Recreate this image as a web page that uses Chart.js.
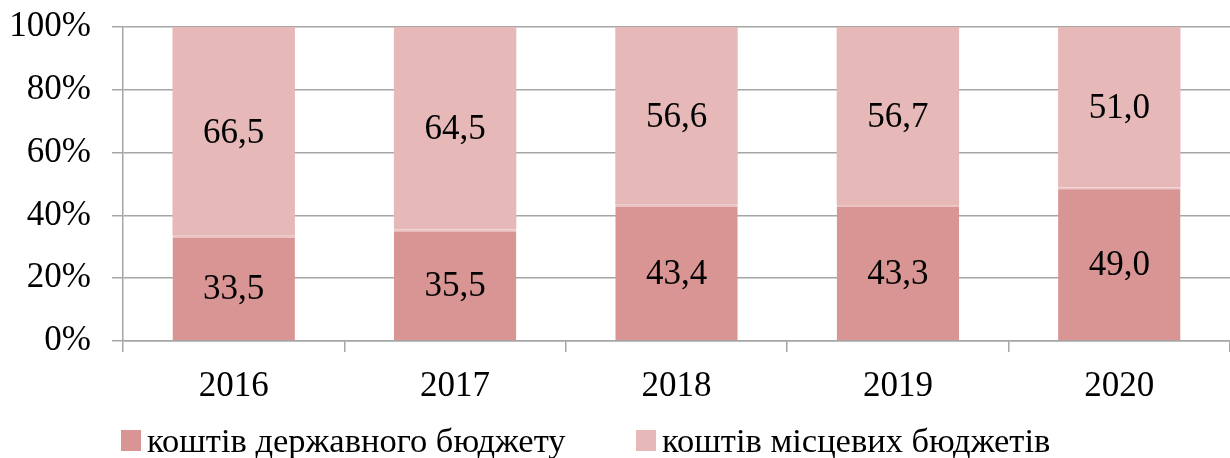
<!DOCTYPE html>
<html>
<head>
<meta charset="utf-8">
<script src="https://cdn.jsdelivr.net/npm/chart.js@4"></script>
<style>
  html, body { margin: 0; padding: 0; background: #fff; }
  #wrap { width: 1230px; height: 458px; position: relative; overflow: hidden; }
  .legend-item {
    position: absolute; top: 422px; height: 36px;
    font-family: "Liberation Serif", "Times New Roman", serif;
    font-size: 34.5px; line-height: 36px; color: #000; white-space: nowrap;
  }
  .legend-item span.box {
    display: inline-block; width: 20px; height: 21px;
    vertical-align: top; margin-top: 8px; margin-right: 6px;
  }
</style>
</head>
<body>
<div id="wrap">
  <canvas id="chart" width="1230" height="458"></canvas>
  <div id="legend"></div>
</div>
<script>
// data
var years = ['2016', '2017', '2018', '2019', '2020'];
var stateBudget = [33.5, 35.5, 43.4, 43.3, 49.0];
var localBudget = [66.5, 64.5, 56.6, 56.7, 51.0];
var seriesNames = ['коштів державного бюджету', 'коштів місцевих бюджетів'];
var seriesColors = ['rgb(217, 149, 148)', 'rgb(230, 185, 184)'];
var yTicks = [0, 20, 40, 60, 80, 100];

var fontFamily = '"Liberation Serif", "Times New Roman", serif';
var gridColor = '#a6a6a6';

// Plugin to draw the value in the middle of every bar segment
var valueLabels = {
    id: 'valueLabels',
    afterDatasetsDraw: function(chart) {
        var ctx = chart.ctx;
        ctx.save();
        ctx.font = '35px ' + fontFamily;
        ctx.fillStyle = '#000';
        ctx.textAlign = 'center';
        ctx.textBaseline = 'middle';
        chart.data.datasets.forEach(function(ds, i) {
            var meta = chart.getDatasetMeta(i);
            meta.data.forEach(function(bar, j) {
                var mid = (bar.y + bar.base) / 2;
                ctx.fillText(ds.data[j].toFixed(1).replace('.', ','), bar.x, mid + 2);
            });
        });
        ctx.restore();
    }
};

var ctx = document.getElementById('chart').getContext('2d');
var chart = new Chart(ctx, {
    type: 'bar',
    data: {
        labels: years,
        datasets: [{
            label: seriesNames[0],
            data: stateBudget,
            backgroundColor: seriesColors[0],
            borderColor: 'rgb(236, 196, 195)',
            borderWidth: { top: 2, left: 0, right: 0, bottom: 0 },
            borderSkipped: false,
            categoryPercentage: 1,
            barPercentage: 0.553
        }, {
            label: seriesNames[1],
            data: localBudget,
            backgroundColor: seriesColors[1],
            borderWidth: 0,
            categoryPercentage: 1,
            barPercentage: 0.553
        }]
    },
    options: {
        responsive: false,
        animation: false,
        layout: { padding: 0 },
        scales: {
            x: {
                stacked: true,
                afterFit: function(axis) { axis.height = 117; },
                border: { color: gridColor, width: 1.5 },
                grid: {
                    drawOnChartArea: false,
                    drawTicks: true,
                    tickLength: 11,
                    color: gridColor,
                    lineWidth: 1.5,
                    offset: true
                },
                ticks: {
                    color: '#000',
                    font: { family: fontFamily, size: 35 },
                    padding: 14
                }
            },
            y: {
                stacked: true,
                min: 0,
                max: 100,
                afterBuildTicks: function(axis) {
                    axis.ticks = yTicks.map(function(v) { return { value: v }; });
                },
                afterFit: function(axis) {
                    axis.width = 123;
                    axis.paddingTop = 27;
                    axis.paddingBottom = 0;
                },
                border: { color: gridColor, width: 1.5 },
                grid: {
                    color: gridColor,
                    lineWidth: 1.5,
                    drawTicks: true,
                    tickLength: 11
                },
                ticks: {
                    color: '#000',
                    font: { family: fontFamily, size: 35 },
                    padding: 21,
                    callback: function(v) { return v + '%'; }
                }
            }
        },
        plugins: {
            legend: { display: false },
            tooltip: { enabled: false }
        }
    },
    plugins: [valueLabels]
});

// Legend built from the datasets, placed under the axis like in the picture
var legendLeft = [121, 636];
var legendDiv = document.getElementById('legend');
chart.data.datasets.forEach(function(ds, i) {
    var item = document.createElement('div');
    item.className = 'legend-item';
    item.style.left = legendLeft[i] + 'px';
    var box = document.createElement('span');
    box.className = 'box';
    box.style.background = ds.backgroundColor;
    item.appendChild(box);
    item.appendChild(document.createTextNode(ds.label));
    legendDiv.appendChild(item);
});
</script>
</body>
</html>
